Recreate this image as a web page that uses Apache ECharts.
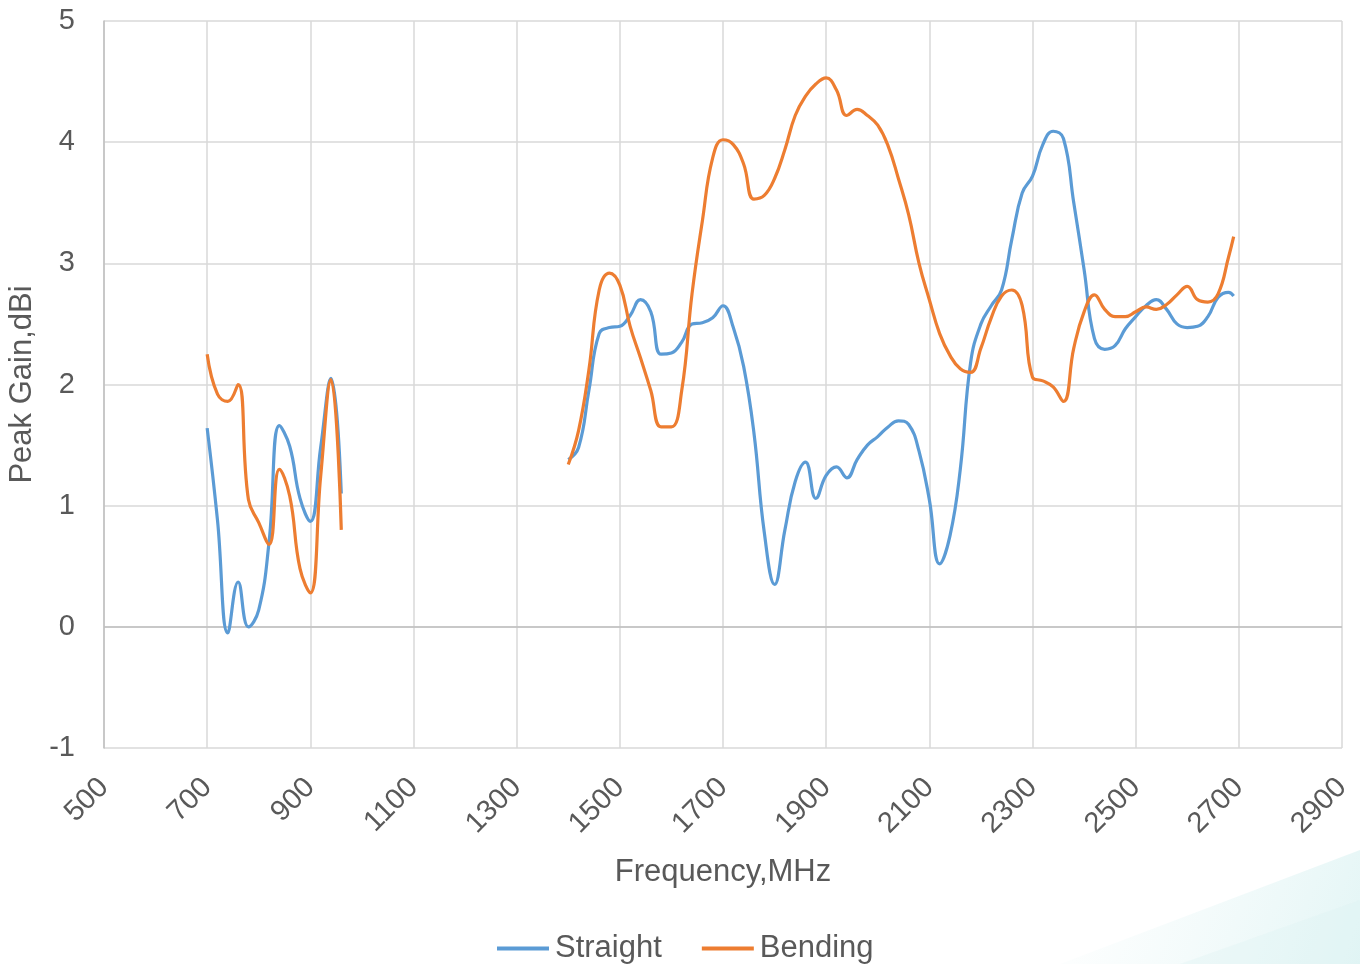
<!DOCTYPE html>
<html>
<head>
<meta charset="utf-8">
<script src="https://cdn.jsdelivr.net/npm/echarts@6/dist/echarts.min.js"></script>
<style>html,body{margin:0;padding:0;background:#fff}#c{width:1360px;height:964px}</style>
</head>
<body>
<div id="c"></div>
<script>
// Frequencies (MHz)
const lowFreq = [700,720,740,760,780,800,820,840,860,880,900,920,940,960];
const midFreq = [1400,1420,1440,1460,1480,1500,1520,1540,1560,1580,1600,1620,1640,1660,1680,1700,1720,1740,1760,1780,1800,1820,1840,1860,1880,1900,1920,1940,1960,1980,2000,2020,2040,2060,2080,2100,2120,2140,2160,2180,2200,2220,2240,2260,2280,2300,2320,2340,2360,2380,2400,2420,2440,2460,2480,2500,2520,2540,2560,2580,2600,2620,2640,2660,2680,2690];

// Peak gain (dBi)
const straightLow = [1.64,0.88,-0.05,0.37,0.0,0.14,0.70,1.66,1.49,1.06,0.87,1.48,2.05,1.10];
const straightMid = [1.38,1.48,1.95,2.42,2.47,2.48,2.57,2.70,2.60,2.25,2.26,2.35,2.50,2.51,2.55,2.65,2.47,2.15,1.60,0.78,0.35,0.80,1.20,1.36,1.06,1.25,1.32,1.23,1.38,1.50,1.57,1.65,1.70,1.67,1.45,1.05,0.52,0.75,1.30,2.18,2.50,2.65,2.78,3.20,3.58,3.72,3.98,4.09,4.03,3.50,2.95,2.38,2.29,2.32,2.46,2.56,2.65,2.70,2.62,2.50,2.47,2.48,2.56,2.72,2.76,2.73];
const bendingLow = [2.25,1.92,1.86,2.00,1.05,0.86,0.68,1.30,1.08,0.48,0.28,1.24,2.04,0.80];
const bendingMid = [1.34,1.62,2.12,2.78,2.92,2.82,2.48,2.22,1.95,1.65,1.65,1.95,2.75,3.35,3.87,4.02,3.98,3.82,3.53,3.56,3.70,3.94,4.22,4.38,4.48,4.53,4.43,4.22,4.27,4.22,4.14,3.97,3.70,3.40,3.00,2.70,2.42,2.24,2.13,2.10,2.30,2.55,2.73,2.78,2.65,2.06,2.03,1.98,1.86,2.30,2.60,2.74,2.62,2.56,2.56,2.60,2.64,2.62,2.66,2.74,2.81,2.70,2.68,2.75,3.05,3.22];

const seriesNames = ['Straight','Bending'];
const xTicks = {min:500, max:2900, interval:200};
const yTicks = {min:-1, max:5, interval:1};

function build(low, mid){
  const d = lowFreq.map((f,i)=>[f, low[i]]);
  d.push([1180, null]);
  midFreq.forEach((f,i)=>d.push([f, mid[i]]));
  return d;
}

const font = '"Liberation Sans", Arial, sans-serif';
const chart = echarts.init(document.getElementById('c'), null, {renderer:'canvas'});
chart.setOption({
  animation:false,
  backgroundColor:'#fff',
  textStyle:{fontFamily:font},
  grid:{left:104, right:18, top:21, bottom:216, containLabel:false, outerBoundsMode:'none'},
  xAxis:{
    type:'value', min:xTicks.min, max:xTicks.max, interval:xTicks.interval,
    name:'Frequency,MHz', nameLocation:'middle', nameGap:109,
    nameTextStyle:{fontSize:31, color:'#595959', fontFamily:font},
    axisLine:{show:false}, axisTick:{show:false},
    axisLabel:{rotate:45, fontSize:29, color:'#595959', margin:35, fontFamily:font, formatter:v=>String(v)},
    splitLine:{show:true, lineStyle:{color:'#d9d9d9', width:1.5}}
  },
  yAxis:{
    type:'value', min:yTicks.min, max:yTicks.max, interval:yTicks.interval,
    name:'Peak Gain,dBi', nameLocation:'middle', nameGap:65,
    nameTextStyle:{fontSize:31, color:'#595959', fontFamily:font},
    axisLine:{show:true, lineStyle:{color:'#bfbfbf', width:1.5}}, axisTick:{show:false},
    axisLabel:{fontSize:29, color:'#595959', margin:29, fontFamily:font},
    splitLine:{show:true, lineStyle:{color:'#d9d9d9', width:1.5}}
  },
  legend:{
    top:928, left:492, itemWidth:52, itemHeight:4, itemGap:40,
    icon:'rect',
    textStyle:{fontSize:31, color:'#595959', fontFamily:font, padding:[0,0,0,1]},
    data:seriesNames
  },
  graphic:[
    {type:'polygon', z:-10, shape:{points:[[1060,964],[1360,850],[1360,964]]},
     style:{fill:new echarts.graphic.LinearGradient(0,0,1,1,[{offset:0,color:'rgba(230,246,246,0)'},{offset:1,color:'rgba(215,241,241,0.7)'}])}},
    {type:'polygon', z:-10, shape:{points:[[1180,964],[1360,900],[1360,964]]},
     style:{fill:'rgba(220,242,242,0.3)'}}
  ],
  series:[
    {name:seriesNames[0], type:'line', data:build(straightLow, straightMid), smooth:0.45, showSymbol:false, symbol:'none',
     connectNulls:false, lineStyle:{color:'#5b9bd5', width:3.2}, itemStyle:{color:'#5b9bd5'},
     markLine:{silent:true, symbol:'none', label:{show:false}, data:[{yAxis:0}], lineStyle:{color:'#bfbfbf', width:1.5, type:'solid'}, z:1}},
    {name:seriesNames[1], type:'line', data:build(bendingLow, bendingMid), smooth:0.45, showSymbol:false, symbol:'none',
     connectNulls:false, lineStyle:{color:'#ed7d31', width:3.2}, itemStyle:{color:'#ed7d31'}}
  ]
});
</script>
</body>
</html>
